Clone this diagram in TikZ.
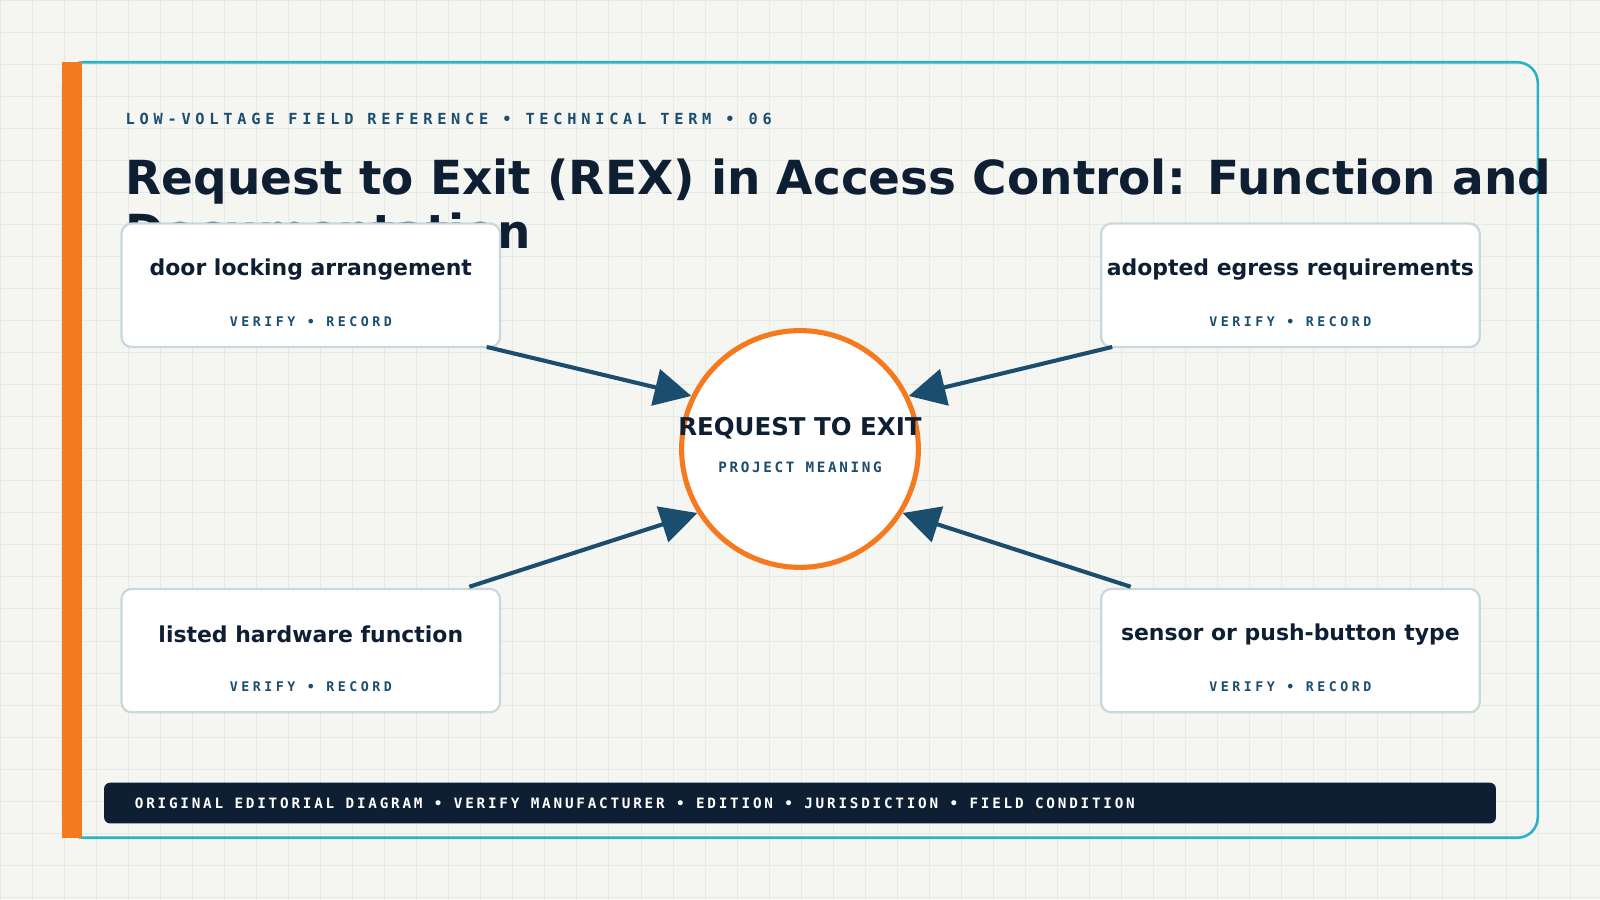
\documentclass[tikz,border=0pt]{standalone}
\usepackage{fontspec}
\setmainfont{DejaVu Sans}
\newfontfamily\monoa[LetterSpace=31]{DejaVu Sans Mono}
\newfontfamily\monob[LetterSpace=26.5]{DejaVu Sans Mono}
\newfontfamily\monoc[LetterSpace=18.5]{DejaVu Sans Mono}
\newfontfamily\monod[LetterSpace=19.5]{DejaVu Sans Mono}
\usetikzlibrary{arrows.meta}
\definecolor{bg}{HTML}{F5F6F1}
\definecolor{gridc}{HTML}{E6EAE4}
\definecolor{navy}{HTML}{0F1F33}
\definecolor{steel}{HTML}{1B4D6E}
\definecolor{teal}{HTML}{2AB3C6}
\definecolor{orng}{HTML}{F57A1F}
\definecolor{boxline}{HTML}{C8D8DC}
\begin{document}
\begin{tikzpicture}[x=1pt,y=-1pt,
 box/.style={draw=boxline,line width=2.2pt,fill=white,rounded corners=10pt,minimum width=371pt,minimum height=121pt,anchor=north west},
 btitle/.style={font=\bfseries\fontsize{21.5}{24}\selectfont,text=navy},
 bsub/.style={font=\monob\bfseries\fontsize{13}{15}\selectfont,text=steel},
 arr/.style={draw=steel,line width=4pt,-{Triangle[length=36pt,width=36pt]}}]
\useasboundingbox (0,0) rectangle (1568,882);
\fill[bg] (0,0) rectangle (1568,882);
\foreach \i in {0,...,50} {\draw[gridc,line width=0.6pt] (\i*31.4,0) -- (\i*31.4,882);}
\foreach \j in {0,...,28} {\draw[gridc,line width=0.6pt] (0,\j*31.4) -- (1568,\j*31.4);}
\draw[teal,line width=2.5pt,rounded corners=20pt] (62,61) rectangle (1507,821);
\fill[orng] (61,61) rectangle (80,821);
\node[anchor=base west,inner sep=0,font=\monoa\bfseries\fontsize{15}{17}\selectfont,text=steel] (hdr) at (123,122) {LOW-VOLTAGE FIELD REFERENCE • TECHNICAL TERM • 06};
\node[anchor=base west,inner sep=0,font=\bfseries\fontsize{46}{54}\selectfont,text=navy] (ttl) at (123,191) {Request to Exit (REX) in Access Control: Function and};
\node[anchor=base west,inner sep=0,font=\bfseries\fontsize{46}{54}\selectfont,text=navy] (ttl2) at (123,244) {Documentation};
\node[box] (b1) at (118,218) {};
\node[box] (b2) at (1078,218) {};
\node[box] (b3) at (118,576) {};
\node[box] (b4) at (1078,576) {};
\foreach \b/\t in {b1/door locking arrangement,b2/adopted egress requirements,b3/listed hardware function,b4/sensor or push-button type}{
 \node[btitle] (\b t) at ([yshift=-46pt]\b.north) {\t};
 \node[bsub] (\b s) at ([yshift=-97pt]\b.north) {VERIFY • RECORD};
}
\node[circle,draw=orng,line width=5pt,fill=white,minimum size=232pt,inner sep=0] (c) at (784,440) {};
\node[font=\bfseries\fontsize{24}{28}\selectfont,text=navy] (ct) at (784,420) {REQUEST TO EXIT};
\node[font=\monoc\bfseries\fontsize{14}{16}\selectfont,text=steel] (cs) at (784,458) {PROJECT MEANING};
\coordinate (a1) at (477,340); \coordinate (a2) at (1090,340);
\coordinate (a3) at (460,575); \coordinate (a4) at (1108,575);
\draw[arr] (a1) -- (c.154);
\draw[arr] (a2) -- (c.26);
\draw[arr] (a3) -- (c.212);
\draw[arr] (a4) -- (c.-32);
\fill[navy,rounded corners=6pt] (102,767) rectangle (1466,807);
\node[anchor=base west,inner sep=0,font=\monod\bfseries\fontsize{14}{16}\selectfont,text=white] (ft) at (132,792) {ORIGINAL EDITORIAL DIAGRAM • VERIFY MANUFACTURER • EDITION • JURISDICTION • FIELD CONDITION};
\end{tikzpicture}
\end{document}
